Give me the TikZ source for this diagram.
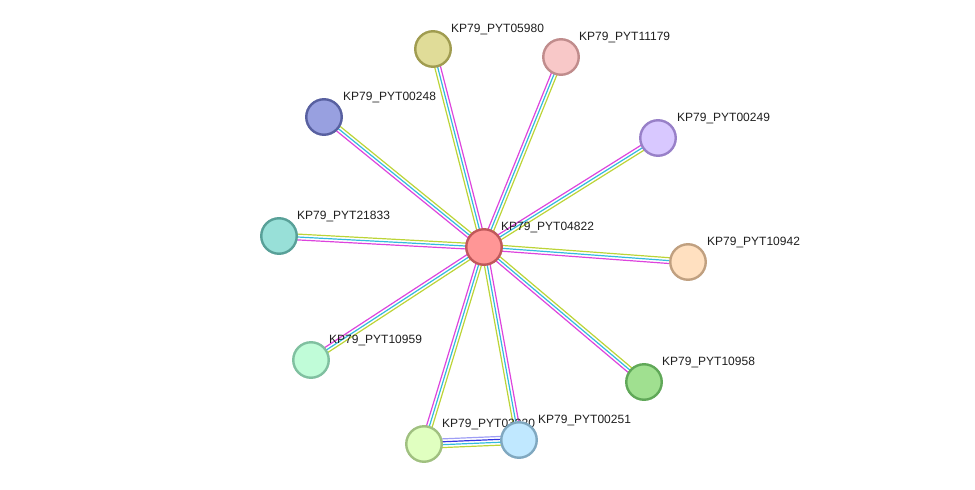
\documentclass[tikz,border=0pt]{standalone}
\usepackage{fontspec}
\setmainfont{Liberation Sans}
\usetikzlibrary{calc,backgrounds}

\definecolor{expcol}{HTML}{DD44DD}
\definecolor{dbcol}{HTML}{33BBDD}
\definecolor{txtcol}{HTML}{BCD437}
\definecolor{homcol}{HTML}{9E9EF5}
\definecolor{coocol}{HTML}{3535E0}
\definecolor{labeltext}{HTML}{1E1E1E}

\definecolor{f04822}{HTML}{FF9696}\definecolor{d04822}{HTML}{C0585A}
\definecolor{f05980}{HTML}{E0DC98}\definecolor{d05980}{HTML}{A09C50}
\definecolor{f11179}{HTML}{F8C8C8}\definecolor{d11179}{HTML}{C08C8C}
\definecolor{f00248}{HTML}{98A0E0}\definecolor{d00248}{HTML}{5860A0}
\definecolor{f00249}{HTML}{D8C8FF}\definecolor{d00249}{HTML}{9880C8}
\definecolor{f21833}{HTML}{98E0D8}\definecolor{d21833}{HTML}{58A098}
\definecolor{f10942}{HTML}{FFE0C0}\definecolor{d10942}{HTML}{C0A080}
\definecolor{f10959}{HTML}{C0FCD8}\definecolor{d10959}{HTML}{80C0A0}
\definecolor{f10958}{HTML}{A0E090}\definecolor{d10958}{HTML}{60A858}
\definecolor{f03220}{HTML}{E0FFC0}\definecolor{d03220}{HTML}{A0C080}
\definecolor{f00251}{HTML}{C0E8FF}\definecolor{d00251}{HTML}{80A8C0}

% one coloured strand, shifted sideways from the line a--b
\newcommand{\strand}[4]{\draw[#3] ($(#1)!#4!90:(#2)$) -- ($(#2)!#4!-90:(#1)$);}
\newcommand{\link}[2]{\strand{#1}{#2}{expline}{-2.9pt}\strand{#1}{#2}{dbline}{0pt}\strand{#1}{#2}{txtline}{2.9pt}}

\begin{document}
\begin{tikzpicture}[x=1pt, y=-1pt,
    prot/.style 2 args={circle, fill=#1, draw=#2, line width=2.4pt, minimum size=35.5pt, inner sep=0pt},
    lbl/.style={anchor=base west, inner sep=0pt, text=labeltext, font=\fontsize{12pt}{14pt}\selectfont},
    expline/.style={draw=expcol, line width=1.2pt},
    dbline/.style={draw=dbcol, line width=1.2pt},
    txtline/.style={draw=txtcol, line width=1.2pt},
    homline/.style={draw=homcol, line width=1.2pt},
    cooline/.style={draw=coocol, line width=1.2pt}]
    \useasboundingbox (0,0) rectangle (975,490);

    % Proteins
    \node[prot={f04822}{d04822}] (n04822) at (484,247) {};
    \node[lbl] (l04822) at ($(n04822)+(17,-17)$) {KP79\_PYT04822};
    \node[prot={f05980}{d05980}] (n05980) at (433,49) {};
    \node[lbl] (l05980) at ($(n05980)+(18,-17)$) {KP79\_PYT05980};
    \node[prot={f11179}{d11179}] (n11179) at (561,57) {};
    \node[lbl] (l11179) at ($(n11179)+(18,-17)$) {KP79\_PYT11179};
    \node[prot={f00248}{d00248}] (n00248) at (324,117) {};
    \node[lbl] (l00248) at ($(n00248)+(19,-17)$) {KP79\_PYT00248};
    \node[prot={f00249}{d00249}] (n00249) at (658,138) {};
    \node[lbl] (l00249) at ($(n00249)+(19,-17)$) {KP79\_PYT00249};
    \node[prot={f21833}{d21833}] (n21833) at (279,236) {};
    \node[lbl] (l21833) at ($(n21833)+(18,-17)$) {KP79\_PYT21833};
    \node[prot={f10942}{d10942}] (n10942) at (688,262) {};
    \node[lbl] (l10942) at ($(n10942)+(19,-17)$) {KP79\_PYT10942};
    \node[prot={f10959}{d10959}] (n10959) at (311,360) {};
    \node[lbl] (l10959) at ($(n10959)+(18,-17)$) {KP79\_PYT10959};
    \node[prot={f10958}{d10958}] (n10958) at (644,382) {};
    \node[lbl] (l10958) at ($(n10958)+(18,-17)$) {KP79\_PYT10958};
    \node[prot={f03220}{d03220}] (n03220) at (424,444) {};
    \node[lbl] (l03220) at ($(n03220)+(18,-17)$) {KP79\_PYT03220};
    \node[prot={f00251}{d00251}] (n00251) at (519,440) {};
    \node[lbl] (l00251) at ($(n00251)+(19,-17)$) {KP79\_PYT00251};

    % Interactions
    \begin{pgfonlayer}{background}
    \link{n04822}{n05980}
    \link{n11179}{n04822}
    \link{n00248}{n04822}
    \link{n00249}{n04822}
    \link{n21833}{n04822}
    \link{n04822}{n10942}
    \link{n04822}{n10959}
    \link{n04822}{n03220}
    \link{n00251}{n04822}
    \link{n04822}{n10958}
    \strand{n03220}{n00251}{homline}{4.35pt}
    \strand{n03220}{n00251}{cooline}{1.45pt}
    \strand{n03220}{n00251}{dbline}{-1.45pt}
    \strand{n03220}{n00251}{txtline}{-4.35pt}
    \end{pgfonlayer}
\end{tikzpicture}
\end{document}
